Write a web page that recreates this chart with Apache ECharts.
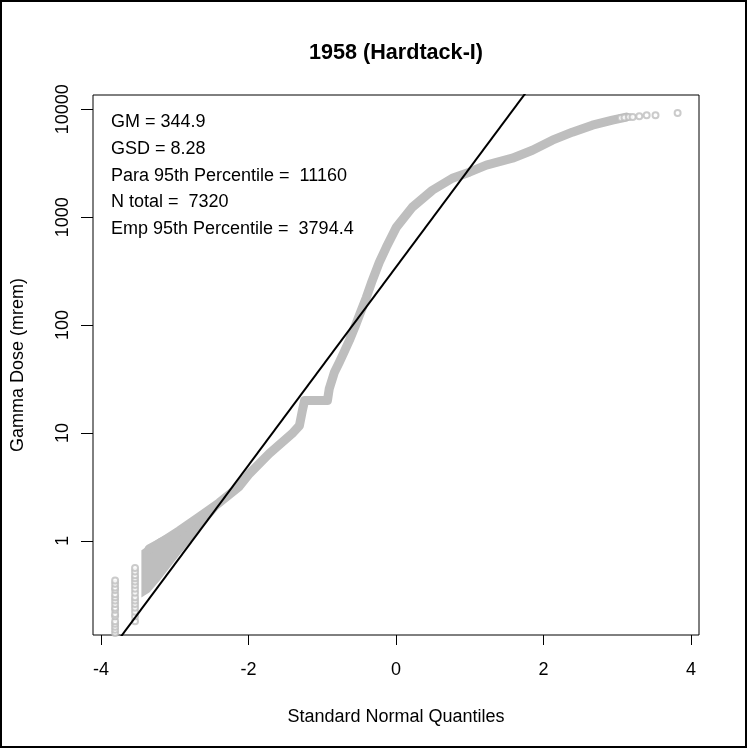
<!DOCTYPE html>
<html>
<head>
<meta charset="utf-8">
<script src="https://cdn.jsdelivr.net/npm/echarts@6/dist/echarts.min.js"></script>
<style>html,body{margin:0;padding:0;background:#fff}#c{width:747px;height:748px}</style>
</head>
<body>
<div id="c"></div>
<script>
// ---- data ----
const titleText = '1958 (Hardtack-I)';
const xName = 'Standard Normal Quantiles';
const yName = 'Gamma Dose (mrem)';
const xTicks = [-4, -2, 0, 2, 4];
const yTicks = [1, 10, 100, 1000, 10000];
const statLines = ['GM = 344.9', 'GSD = 8.28', 'Para 95th Percentile =  11160', 'N total =  7320', 'Emp 95th Percentile =  3794.4'];
const GM = 344.9;
const GSD = 8.28;
const refZ = [-4.4, 4.4];

// dense band of points (centre line), quantile vs dose
const bandZ = [-3.35, -3.15, -2.94, -2.67, -2.40, -2.13, -1.99, -1.72, -1.41, -1.31, -1.27, -1.24, -0.93, -0.905, -0.837, -0.77, -0.70, -0.633, -0.539, -0.471, -0.403, -0.322, -0.227, -0.132, 0.004, 0.221, 0.493, 0.764, 0.995, 1.225, 1.578, 1.85, 2.121, 2.392, 2.664, 2.935, 3.125];
const bandY = [0.84, 1.0, 1.24, 1.67, 2.25, 3.17, 4.19, 6.43, 9.85, 11.7, 16.1, 20, 20, 25.8, 36.3, 45, 57, 72, 103.5, 137, 180, 259, 381, 526, 805, 1236, 1778, 2297, 2613, 3034, 3524, 4178, 5176, 6140, 7126, 7940, 8470];

// lower-left cloud of tied low doses (outline)
const cloudZ = [-3.44, -3.21, -2.94, -2.67, -2.40, -2.40, -2.67, -2.94, -3.21, -3.35, -3.44];
const cloudY = [0.81, 1.04, 1.29, 1.74, 2.35, 2.07, 1.26, 0.76, 0.44, 0.34, 0.31];

// lowest columns of circles
const colAZ = -3.81;
const colAY = [0.14, 0.15, 0.16, 0.17, 0.18, 0.20, 0.21, 0.23, 0.24, 0.26, 0.28, 0.30, 0.32, 0.35, 0.37, 0.40, 0.43];
const colBZ = -3.54;
const colBY = [0.18, 0.20, 0.22, 0.24, 0.26, 0.28, 0.30, 0.33, 0.36, 0.39, 0.42, 0.45, 0.48, 0.52, 0.56];

// upper tail circles
const tailZ = [3.05, 3.10, 3.16, 3.21, 3.30, 3.40, 3.52, 3.82];
const tailY = [8300, 8400, 8500, 8470, 8650, 8830, 8830, 9230];

// ---- build ----
const pair = (zs, ys) => zs.map((z, i) => [z, ys[i]]);
const bandData = pair(bandZ, bandY);
const cloudData = pair(cloudZ, cloudY);
const colData = colAY.map(v => [colAZ, v]).concat(colBY.map(v => [colBZ, v]));
const tailData = pair(tailZ, tailY);
const refData = refZ.map(z => [z, GM * Math.pow(GSD, z)]);

const FONT = 'Liberation Sans, Arial, sans-serif';
const gray = '#BEBEBE';
const chart = echarts.init(document.getElementById('c'), null, {renderer: 'canvas'});

chart.setOption({
  animation: false,
  backgroundColor: '#fff',
  grid: {left: 93, right: 48, top: 95, bottom: 113, show: true, borderColor: '#000', borderWidth: 1, backgroundColor: 'transparent'},
  xAxis: {
    type: 'value', min: -4.11, max: 4.11,
    name: xName, nameLocation: 'middle', nameGap: 73,
    nameTextStyle: {fontFamily: FONT, fontSize: 18, color: '#000'},
    axisLine: {show: false, onZero: false},
    axisTick: {show: true, length: 10, lineStyle: {color: '#000', width: 1}, customValues: xTicks},
    axisLabel: {customValues: xTicks, margin: 26, fontFamily: FONT, fontSize: 18, color: '#000', formatter: v => String(v)},
    splitLine: {show: false}
  },
  yAxis: {
    type: 'log', logBase: 10, min: 0.134, max: 13580,
    name: yName, nameLocation: 'middle', nameGap: 66, nameRotate: 90,
    nameTextStyle: {fontFamily: FONT, fontSize: 18, color: '#000'},
    axisLine: {show: false, onZero: false},
    axisTick: {show: true, length: 12, lineStyle: {color: '#000', width: 1}, customValues: yTicks},
    axisLabel: {customValues: yTicks, rotate: 90, margin: 21, fontFamily: FONT, fontSize: 18, color: '#000', formatter: v => String(Math.round(v))},
    splitLine: {show: false}
  },
  series: [
    {
      type: 'custom', clip: true, z: 2,
      data: [0],
      renderItem: (params, api) => ({
        type: 'polygon',
        shape: {points: cloudData.map(p => api.coord(p))},
        style: {fill: gray, stroke: gray, lineWidth: 2}
      })
    },
    {
      type: 'line', data: bandData, symbol: 'none', clip: true, z: 2,
      lineStyle: {color: gray, width: 9, cap: 'round', join: 'round'}
    },
    {
      type: 'scatter', data: colData, symbol: 'emptyCircle', symbolSize: 6, clip: true, z: 3,
      itemStyle: {color: gray, borderColor: gray, borderWidth: 1.2}
    },
    {
      type: 'scatter', data: tailData, symbol: 'emptyCircle', symbolSize: 6, clip: true, z: 3,
      itemStyle: {color: gray, borderColor: gray, borderWidth: 1.2}
    },
    {
      type: 'line', data: refData, symbol: 'none', clip: true, z: 4,
      lineStyle: {color: '#000', width: 2}
    }
  ],
  graphic: [
    {type: 'rect', shape: {x: 1, y: 1, width: 745, height: 746}, style: {fill: 'none', stroke: '#000', lineWidth: 2}, z: 100},
    {type: 'text', x: 396, y: 53, style: {text: titleText, font: 'bold 21.6px ' + FONT, fill: '#000', textAlign: 'center', textVerticalAlign: 'middle'}, z: 100}
  ].concat(statLines.map((t, i) => ({
    type: 'text', x: 111, y: 122 + i * 26.8,
    style: {text: t, font: '18px ' + FONT, fill: '#000', textAlign: 'left', textVerticalAlign: 'middle'}, z: 100
  })))
});
</script>
</body>
</html>
